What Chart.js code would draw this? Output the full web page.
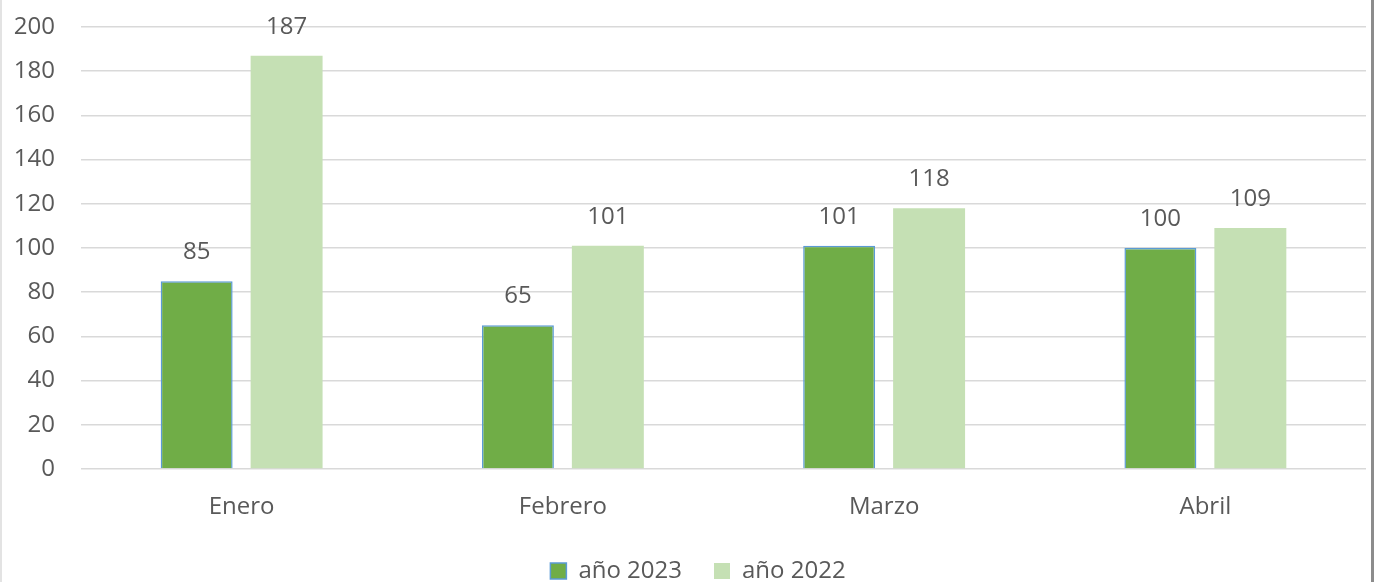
<!DOCTYPE html>
<html>
<head>
<meta charset="utf-8">
<script src="https://cdn.jsdelivr.net/npm/chart.js@4/dist/chart.umd.min.js"></script>
<style>
  html, body { margin: 0; padding: 0; background: #fff; }
  #wrap {
    position: relative;
    width: 1369px;
    height: 582px;
    border-left: 2px solid #e3e3e3;
    border-right: 3px solid #8c8c8c;
  }
</style>
</head>
<body>
<div id="wrap"><canvas id="chartContainer"></canvas></div>
<script>
const months = ['Enero', 'Febrero', 'Marzo', 'Abril'];
const values2023 = [85, 65, 101, 100];
const values2022 = [187, 101, 118, 109];
const yTicks = [0, 20, 40, 60, 80, 100, 120, 140, 160, 180, 200];

const textColor = '#595959';
const fontFamily = "'Open Sans', 'Noto Sans', sans-serif";
const fontSize = 24;

// value labels above each bar
const barLabels = {
    id: 'barLabels',
    afterDatasetsDraw(chart) {
        const ctx = chart.ctx;
        ctx.save();
        ctx.fillStyle = textColor;
        ctx.font = `${fontSize}px ${fontFamily}`;
        ctx.textAlign = 'center';
        ctx.textBaseline = 'alphabetic';
        chart.data.datasets.forEach((ds, i) => {
            const meta = chart.getDatasetMeta(i);
            meta.data.forEach((bar, j) => {
                ctx.fillText(String(ds.data[j]), bar.x, bar.y - 22);
            });
        });
        ctx.restore();
    }
};

// nudge the legend a bit to the right, like the original
const legendShift = {
    id: 'legendShift',
    afterLayout(chart) {
        if (chart.legend) {
            chart.legend.left += 14;
            chart.legend.right += 14;
        }
    }
};

function createChart(ctx) {
    return new Chart(ctx, {
        type: 'bar',
        data: {
            labels: months,
            datasets: [
                {
                    label: 'año 2023',
                    data: values2023,
                    backgroundColor: '#70AD47',
                    borderColor: '#5B9BD5',
                    borderWidth: 1.5,
                    categoryPercentage: 0.56,
                    barPercentage: 0.8
                },
                {
                    label: 'año 2022',
                    data: values2022,
                    backgroundColor: '#C5E0B4',
                    borderWidth: 0,
                    categoryPercentage: 0.56,
                    barPercentage: 0.8
                }
            ]
        },
        options: {
            responsive: true,
            maintainAspectRatio: false,
            animation: false,
            layout: { padding: { top: 0, right: 5, left: 0, bottom: -11 } },
            plugins: {
                tooltip: { enabled: false },
                legend: {
                    position: 'bottom',
                    labels: {
                        color: textColor,
                        font: { family: fontFamily, size: fontSize },
                        boxWidth: 16,
                        boxHeight: 16,
                        padding: 32
                    }
                }
            },
            scales: {
                x: {
                    grid: { display: false, drawTicks: false },
                    border: { display: false },
                    ticks: {
                        color: textColor,
                        font: { family: fontFamily, size: fontSize },
                        padding: 24
                    },
                    afterFit(axis) { axis.height = 58; }
                },
                y: {
                    min: 0,
                    max: 200,
                    afterBuildTicks(axis) { axis.ticks = yTicks.map(v => ({ value: v })); },
                    grid: { color: '#d9d9d9', lineWidth: 1.5, drawTicks: false },
                    border: { display: false },
                    ticks: {
                        color: textColor,
                        font: { family: fontFamily, size: fontSize },
                        padding: 26
                    },
                    afterFit(axis) {
                        axis.width = 79;
                        axis.paddingTop = 27;
                        axis.paddingBottom = 0;
                    }
                }
            }
        },
        plugins: [barLabels, legendShift]
    });
}

createChart(document.getElementById('chartContainer').getContext('2d'));
</script>
</body>
</html>
